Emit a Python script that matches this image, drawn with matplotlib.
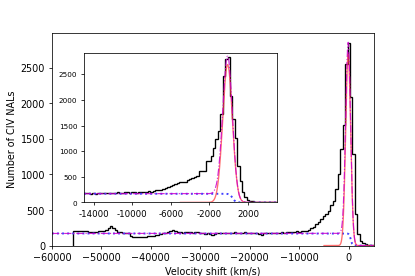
import numpy as np
import matplotlib
matplotlib.use("Agg")
import matplotlib.pyplot as plt

# ---- data: main histogram (500 km/s bins, centres -55500 .. 5000) ----
main_bin_width = 500
main_bin_start = -55750
main_counts = [
    # -55500 .. -15500
    210, 205, 208, 205, 205, 200, 195, 190, 195, 195,
    200, 205, 210, 220, 240, 275, 250, 225, 195, 185,
    180, 175, 170, 135, 125, 120, 118, 115, 125, 122,
    128, 130, 140, 145, 155, 165, 170, 180, 185, 200,
    215, 200, 190, 185, 180, 195, 185, 190, 180, 185,
    190, 170, 175, 165, 170, 160, 150, 165, 175, 180,
    170, 175, 180, 175, 170, 185, 180, 175, 180, 185,
    180, 175, 180, 170, 175, 160, 155, 170, 175, 180,
    180,
    # -15000 .. -8500
    178, 182, 175, 185, 180, 188, 192, 190, 195, 198, 195, 200, 205, 210,
    # -8000 .. -500
    225, 245, 265, 300, 330, 370, 410, 450, 490, 570, 630, 800, 1000, 1350, 1700, 2550,
    # 0 .. 5000
    2850, 2080, 1280, 450, 160, 60, 30, 15, 8, 4, 2,
]
main_edges = main_bin_start + main_bin_width * np.arange(len(main_counts) + 1)

# ---- data: inset histogram (250 km/s bins, centres -15000 .. 5000) ----
inset_bin_width = 250
inset_bin_start = -15125
inset_counts = [
    # -15000 .. -11500
    175, 180, 185, 170, 180, 160, 185, 180, 175, 185, 190, 180, 175, 185, 195,
    # -11250 .. -8000
    190, 185, 200, 195, 185, 200, 205, 190, 200, 195, 210, 205, 215, 210,
    # -7750 .. -5000
    230, 240, 245, 240, 260, 280, 300, 320, 335, 350, 370, 390,
    # -4750 .. -3250
    405, 395, 435, 455, 475, 490, 520,
    # -3000 .. -250
    610, 620, 615, 811, 811, 909, 1052, 1234, 1396, 1721, 2468, 2793,
    # 0 .. 5000
    2845, 2078, 1623, 1266, 714, 421, 194, 96, 51, 30, 20, 15, 10, 8, 5, 4, 3, 2, 2, 1, 1,
]
inset_edges = inset_bin_start + inset_bin_width * np.arange(len(inset_counts) + 1)

# fitted model parameters
gauss_amp = 2690
gauss_mu = -120
gauss_sigma = 500
bg_level = 170
bg_cut = 400
bg_soft = 150

main_yticks = [0, 500, 1000, 1500, 2000, 2500]
inset_xticks = [-14000, -10000, -6000, -2000, 2000]
inset_xlabels = ["-14000", "-10000", "-6000", "-2000", "2000"]

# ---- model curves ----
v_all = np.linspace(-60000, 5000, 6000)
v_g = np.linspace(-5000, 5000, 1500)
def gauss(v):
    return gauss_amp * np.exp(-(v - gauss_mu) ** 2 / (2 * gauss_sigma ** 2))
def bg(v):
    return bg_level / (1 + np.exp((v - bg_cut) / bg_soft))

fig = plt.figure(figsize=(6, 4), dpi=415 / 6)
ax = fig.add_axes([0.125, 0.11, 0.775, 0.77])

def draw(a, counts, edges):
    a.stairs(counts, edges, color="black", lw=1.4, baseline=0)
    a.plot(v_all, bg(v_all), ":", color=(0.25, 0.25, 1.0), lw=2.0)
    a.plot(v_g, gauss(v_g), "-", color="#ff4040", alpha=0.75, lw=1.4)
    a.plot(v_all, bg(v_all) + gauss(v_all), "-.", color="#cc00cc", lw=1.2, alpha=0.85)

draw(ax, main_counts, main_edges)
ax.set_xlim(-60000, 5000)
ax.set_ylim(0, 2992)
ax.set_yticks(main_yticks)
ax.set_xlabel("Velocity shift (km/s)")
ax.set_ylabel("Number of CIV NALs")

ins = fig.add_axes([0.2024, 0.266, 0.465, 0.539])
draw(ins, inset_counts, inset_edges)
ins.set_xlim(-15000, 5000)
ins.set_ylim(0, 2910)
ins.set_yticks(main_yticks)
ins.set_xticks(inset_xticks)
ins.set_xticklabels(inset_xlabels)
ins.tick_params(axis="x", labelsize=9)
ins.tick_params(axis="y", labelsize=7.5)

fig.savefig("out.png", dpi=415 / 6)
